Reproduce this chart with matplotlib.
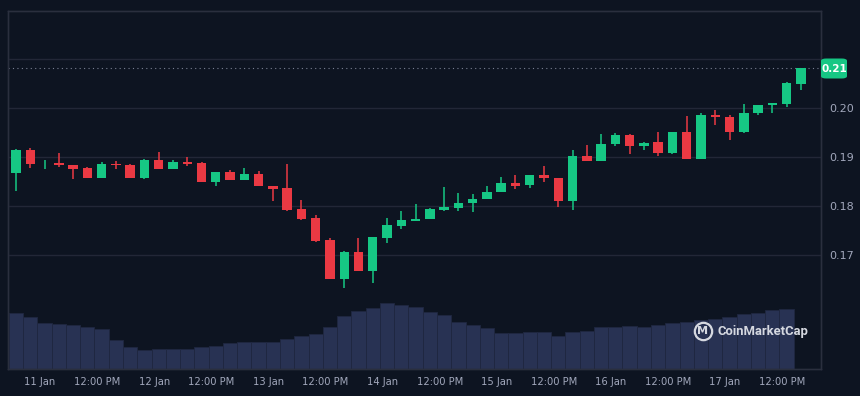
import numpy as np
import matplotlib.pyplot as plt
from matplotlib.patches import FancyBboxPatch
from matplotlib.lines import Line2D

opens = [0.1869, 0.1916, 0.1886, 0.1888, 0.1884, 0.1878, 0.1858, 0.1886, 0.1884, 0.1858,
         0.1895, 0.1877, 0.1891, 0.1888, 0.1850, 0.1871, 0.1853, 0.1867, 0.1842, 0.1837,
         0.1794, 0.1777, 0.1731, 0.1652, 0.1707, 0.1669, 0.1735, 0.1760, 0.1771, 0.1774,
         0.1792, 0.1797, 0.1806, 0.1816, 0.1830, 0.1848, 0.1844, 0.1864, 0.1857, 0.1811,
         0.1903, 0.1892, 0.1927, 0.1946, 0.1924, 0.1931, 0.1910, 0.1951, 0.1897, 0.1986,
         0.1983, 0.1952, 0.1990, 0.2008, 0.2010, 0.2049]
highs = [0.1917, 0.1920, 0.1894, 0.1910, 0.1884, 0.1881, 0.1891, 0.1892, 0.1886, 0.1896,
         0.1911, 0.1895, 0.1901, 0.1890, 0.1871, 0.1874, 0.1879, 0.1873, 0.1842, 0.1886,
         0.1813, 0.1782, 0.1736, 0.1709, 0.1736, 0.1737, 0.1777, 0.1790, 0.1805, 0.1797,
         0.1839, 0.1827, 0.1825, 0.1842, 0.1860, 0.1864, 0.1864, 0.1882, 0.1857, 0.1915,
         0.1925, 0.1948, 0.1949, 0.1948, 0.1932, 0.1952, 0.1951, 0.1984, 0.1991, 0.1997,
         0.1986, 0.2010, 0.2008, 0.2011, 0.2054, 0.2082]
lows = [0.1831, 0.1879, 0.1877, 0.1880, 0.1856, 0.1858, 0.1858, 0.1877, 0.1857, 0.1856,
        0.1877, 0.1877, 0.1883, 0.1849, 0.1842, 0.1853, 0.1853, 0.1841, 0.1812, 0.1791,
        0.1772, 0.1727, 0.1651, 0.1634, 0.1668, 0.1643, 0.1725, 0.1753, 0.1771, 0.1774,
        0.1791, 0.1790, 0.1789, 0.1816, 0.1830, 0.1835, 0.1837, 0.1850, 0.1798, 0.1793,
        0.1892, 0.1892, 0.1923, 0.1906, 0.1916, 0.1903, 0.1906, 0.1897, 0.1897, 0.1966,
        0.1935, 0.1950, 0.1986, 0.1990, 0.2002, 0.2037]
closes = [0.1916, 0.1886, 0.1887, 0.1884, 0.1877, 0.1858, 0.1886, 0.1885, 0.1858, 0.1895,
          0.1877, 0.1890, 0.1887, 0.1850, 0.1871, 0.1853, 0.1867, 0.1841, 0.1836, 0.1792,
          0.1775, 0.1729, 0.1652, 0.1707, 0.1669, 0.1737, 0.1762, 0.1772, 0.1775, 0.1794,
          0.1799, 0.1806, 0.1816, 0.1830, 0.1847, 0.1842, 0.1864, 0.1857, 0.1811, 0.1903,
          0.1892, 0.1927, 0.1946, 0.1924, 0.1930, 0.1910, 0.1951, 0.1897, 0.1986, 0.1982,
          0.1952, 0.1991, 0.2008, 0.2011, 0.2052, 0.2082]

# volumen (M), barras suavizadas
volumes = [55.7, 51.7, 45.7, 45.0, 44.0, 41.7, 40.0, 29.0, 22.3, 19.0,
           20.0, 20.0, 20.0, 22.3, 23.3, 25.7, 27.3, 26.7, 26.7, 29.7,
           33.0, 35.0, 41.7, 53.3, 58.0, 61.3, 66.3, 64.0, 61.7, 57.3,
           54.0, 47.3, 44.0, 40.7, 35.7, 35.7, 36.7, 36.7, 33.3, 37.3,
           38.3, 41.7, 42.3, 43.3, 42.3, 44.0, 45.7, 47.3, 49.0, 50.0,
           51.7, 55.0, 55.7, 59.0, 60.0]

tick_labels = ['11 Jan', '12:00 PM', '12 Jan', '12:00 PM', '13 Jan', '12:00 PM', '14 Jan',
               '12:00 PM', '15 Jan', '12:00 PM', '16 Jan', '12:00 PM', '17 Jan', '12:00 PM']
price_ticks = [0.17, 0.18, 0.19, 0.20]
last_price = closes[-1]

bg = '#0d1421'
verde = '#16c784'
rojo = '#ea3943'
grid_c = '#222737'
texto = '#a1a7bb'
logo_c = '#d5d8e0'

W, H = 860, 396
fig = plt.figure(figsize=(W / 100, H / 100), dpi=100, facecolor=bg)
ax = fig.add_axes([8 / W, 1 - 369 / H, (821 - 8) / W, (369 - 11) / H])

# volumen en eje propio
axv = ax.twinx()
axv.set_ylim(0, 358)
axv.bar(np.arange(len(volumes)), volumes, width=1.0, color='#283253',
        edgecolor='#1f2740', linewidth=0.6, zorder=1)
axv.set_yticks([])
axv.set_zorder(0)
ax.set_zorder(1)
ax.patch.set_visible(False)
axv.set_facecolor(bg)

x = np.arange(len(closes))
o = np.array(opens)
c = np.array(closes)
colores = [verde if cc >= oo else rojo for oo, cc in zip(o, c)]
ax.vlines(x, lows, highs, color=colores, linewidth=1.1, zorder=3)
alto = np.maximum(np.abs(c - o), 0.00012)
ax.bar(x, alto, bottom=np.minimum(o, c), width=0.66, color=colores, zorder=4)

ax.set_xlim(-0.56, 56.41)
ax.set_ylim(0.1468, 0.2199)

for p in [0.17, 0.18, 0.19, 0.20, 0.21]:
    ax.axhline(p, color=grid_c, linewidth=1, zorder=0)
ax.axhline(last_price, color='#7a8093', linewidth=0.8, linestyle=(0, (1, 3)), zorder=2)

ax.set_yticks(price_ticks)
ax.set_yticklabels([f'{p:.2f}' for p in price_ticks])
ax.yaxis.tick_right()
ax.tick_params(axis='y', length=0, pad=6, labelsize=8, labelcolor=texto)
ax.set_xticks(1.69 + 4 * np.arange(len(tick_labels)))
ax.set_xticklabels(tick_labels)
ax.tick_params(axis='x', length=0, pad=6, labelsize=7.2, labelcolor=texto)
for a in (ax, axv):
    for s in a.spines.values():
        s.set_color('#2a2f3e')
        s.set_linewidth(1)

# etiqueta de precio actual
tag = FancyBboxPatch((821 / W, 1 - 78.5 / H), 26 / W, 20 / H,
                     boxstyle='round,pad=0,rounding_size=0.006',
                     transform=fig.transFigure, facecolor=verde, edgecolor='none')
fig.patches.append(tag)
fig.text(834 / W, 1 - 68.5 / H, f'{last_price:.2f}', color='white', fontsize=7.5,
         fontweight='bold', ha='center', va='center')

# logo
circulo = Line2D([703 / W], [1 - 331 / H], transform=fig.transFigure, marker='o',
                 markersize=12.5, markerfacecolor='none', markeredgecolor=logo_c,
                 markeredgewidth=1.6, linestyle='none')
fig.add_artist(circulo)
fig.text(703 / W, 1 - 331.5 / H, 'M', color=logo_c, fontsize=8, fontweight='bold',
         ha='center', va='center')
fig.text(717 / W, 1 - 331 / H, 'CoinMarketCap', color=logo_c, fontsize=9.4,
         fontfamily='Roboto', fontweight='bold', ha='left', va='center')

fig.savefig('out.png', dpi=100, facecolor=bg)
